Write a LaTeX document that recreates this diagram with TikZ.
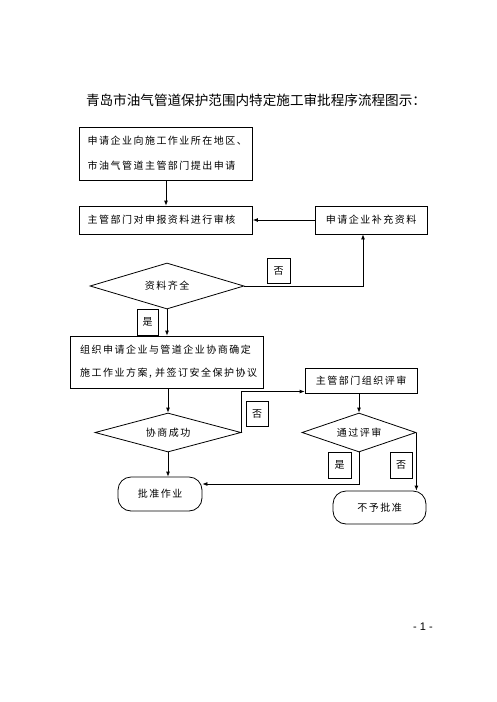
\documentclass[tikz,border=0pt]{standalone}
\usepackage{fontspec}
\usetikzlibrary{arrows.meta,shapes.geometric}
\setmainfont{Liberation Sans}
\newfontfamily\cjk{Noto Sans CJK SC}[LetterSpace=15]
\newfontfamily\cjktitle{Noto Sans CJK SC}
\tikzset{
  box/.style={draw,line width=0.8pt,inner sep=0pt,font=\cjk\fontsize{10}{25}\selectfont},
  dia/.style={draw,diamond,aspect=4,line width=0.8pt,inner sep=0pt,font=\cjk\fontsize{10}{12}\selectfont},
  lab/.style={draw,line width=0.8pt,inner sep=0pt,font=\cjk\fontsize{10}{12}\selectfont},
  term/.style={draw,rounded corners=13pt,line width=0.8pt,inner sep=0pt,font=\cjk\fontsize{10}{12}\selectfont},
  arr/.style={line width=0.8pt,-{Latex[length=5pt,width=4pt]}},
  ln/.style={line width=0.8pt}
}
\begin{document}
\begin{tikzpicture}[x=1pt,y=-1pt]
\useasboundingbox (0,0) rectangle (496,702);
\node[font=\cjktitle\fontsize{13.6}{16}\selectfont] (title) at (256,100) {青岛市油气管道保护范围内特定施工审批程序流程图示：};
\node[box,minimum width=173pt,minimum height=53pt,text width=157pt,align=left] (b1) at (166,153.5) {申请企业向施工作业所在地区、\\市油气管道主管部门提出申请};
\node[box,minimum width=173pt,minimum height=28pt,text width=157pt,align=left,font=\cjk\fontsize{10}{12}\selectfont] (b2) at (166,220) {主管部门对申报资料进行审核};
\node[box,minimum width=112pt,minimum height=28pt,font=\cjk\fontsize{10}{12}\selectfont] (b3) at (371,220) {申请企业补充资料};
\node[dia,minimum width=154pt,minimum height=46pt] (d1) at (167,286) {资料齐全};
\node[lab,minimum width=23pt,minimum height=25pt] (no1) at (278.5,270.5) {否};
\node[lab,minimum width=21pt,minimum height=26pt] (yes1) at (147.5,322) {是};
\node[box,minimum width=193pt,minimum height=52pt,text width=173pt,align=left,font=\cjk\fontsize{10}{23}\selectfont] (b4) at (166.5,362) {组织申请企业与管道企业协商确定\\施工作业方案,~并签订安全保护协议};
\node[dia,minimum width=146pt,minimum height=39pt] (d2) at (168,432.5) {协商成功};
\node[box,minimum width=112pt,minimum height=25pt,font=\cjk\fontsize{10}{12}\selectfont] (b5) at (361,380.5) {主管部门组织评审};
\node[lab,minimum width=22pt,minimum height=25pt] (no2) at (257,413.5) {否};
\node[dia,minimum width=114pt,minimum height=39pt] (d3) at (359,432.5) {通过评审};
\node[lab,minimum width=23pt,minimum height=26pt] (yes2) at (339.5,465) {是};
\node[lab,minimum width=22pt,minimum height=26pt] (no3) at (401,465) {否};
\node[term,minimum width=84pt,minimum height=34pt] (r1) at (160,494) {批准作业};
\node[term,minimum width=93pt,minimum height=33pt] (r2) at (379.5,507.5) {不予批准};
\node[font=\fontsize{11}{13}\selectfont] (pg) at (423,627) {- 1 -};
% connectors
\draw[arr] (b1.south) -- (b2.north);
\draw[arr] (b3.west) -- (b2.east);
\draw[arr] (d1.east) -| ([xshift=-8pt]b3.south);
\draw[arr] (d1.south) -- (d1.south |- b4.north);
\draw[arr] (b4.south -| d2.north) -- (d2.north);
\draw[arr] (d2.east) |- ([yshift=-11pt]b5.west);
\draw[arr] (b5.south -| d3.north) -- (d3.north);
\draw[arr] (d3.south) |- ([yshift=10pt]r1.east);
\draw[arr] (d3.east) -- (d3.east |- r2.north);
\draw[arr] (d2.south) -- (d2.south |- r1.north);
\end{tikzpicture}
\end{document}
